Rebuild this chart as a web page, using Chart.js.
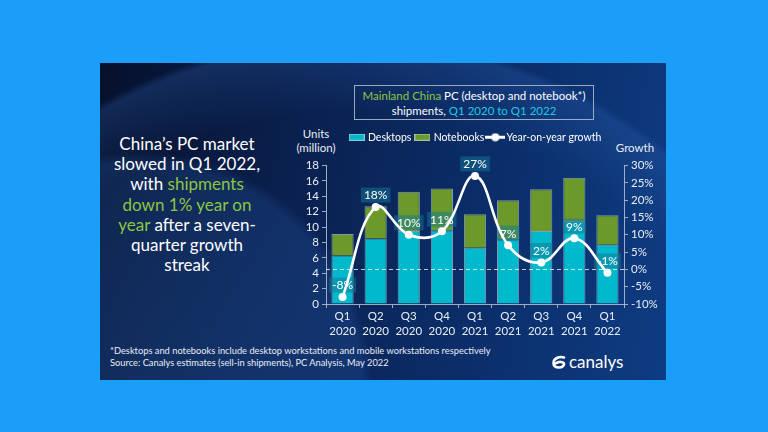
<!DOCTYPE html>
<html>
<head>
<meta charset="utf-8">
<script src="https://cdn.jsdelivr.net/npm/chart.js@4.4.0/dist/chart.umd.min.js"></script>
<style>
    html, body { margin: 0; padding: 0; }
    body {
        width: 768px; height: 432px; position: relative; overflow: hidden;
        background: #1b9ef7;
        font-family: Lato, "Open Sans", sans-serif;
        color: #ffffff;
    }
    #panel {
        position: absolute; left: 100px; top: 63px; width: 566px; height: 317px;
        background:
            radial-gradient(circle 600px at 250px 480px, rgba(45, 95, 175, 0) 430px, rgba(45, 95, 175, 0.30) 498px, rgba(45, 95, 175, 0) 506px),
            radial-gradient(circle 240px at 40px 320px, rgba(40, 95, 175, 0.32) 0, rgba(40, 95, 175, 0.25) 220px, rgba(40, 95, 175, 0) 232px),
            linear-gradient(100deg, #06112c 0%, #0a2150 35%, #0b2d68 65%, #0e3c82 100%);
    }
    .abs { position: absolute; }
    .green { color: #8cc63f; }
    .cyan { color: #1ec9e3; }
    #intro {
        left: 105px; top: 134px; width: 164px; text-align: center;
        font-size: 17px; line-height: 20.2px;
    }
    #titlebox {
        left: 354px; top: 85px; width: 240px; height: 35px;
        border: 1px solid rgba(190, 200, 215, 0.8);
        text-align: center; font-size: 11.5px; line-height: 14.5px;
        box-sizing: border-box; padding-top: 3px;
    }
    .axisTitle { font-size: 11.5px; line-height: 14px; text-align: center; color: #e8edf5; }
    #notes { left: 110px; top: 345px; font-size: 9.3px; line-height: 11.5px; color: #e8edf5; }
    #logo { left: 552px; top: 351px; font-size: 17px; line-height: 21px; }
    #logo svg { vertical-align: -1px; margin-right: 3px; }
    #chartBox { left: 286px; top: 127px; width: 380px; height: 211px; }
</style>
</head>
<body>
<div id="panel"></div>

<div id="intro" class="abs">
    China’s PC market<br>
    slowed in Q1 2022,<br>
    with <span class="green">shipments</span><br>
    <span class="green">down 1% year on</span><br>
    <span class="green">year</span> after a seven-<br>
    quarter growth<br>
    streak
</div>

<div id="titlebox" class="abs">
    <span class="green">Mainland China</span> PC (desktop and notebook*)<br>
    shipments, <span class="cyan">Q1 2020 to Q1 2022</span>
</div>

<div class="abs axisTitle" style="left:290px; top:127px; width:52px;">Units<br>(million)</div>
<div class="abs axisTitle" style="left:610px; top:141px; width:50px;">Growth</div>

<div id="notes" class="abs">
    *Desktops and notebooks include desktop workstations and mobile workstations respectively<br>
    Source: Canalys estimates (sell-in shipments), PC Analysis, May 2022
</div>

<div id="logo" class="abs"><svg width="14" height="14" viewBox="0 0 14 14"><path d="M12 2.5 C7 1 1.5 3.5 1.5 8 C1.5 11 4 12.5 7 12.5 C10 12.5 12.5 10.5 12 8.5 C11 6.5 7 6.3 3.5 8.5" fill="none" stroke="#ffffff" stroke-width="2.6" stroke-linecap="round"/></svg>canalys</div>

<div id="chartBox" class="abs"><canvas id="chart"></canvas></div>

<script>
// values
const quarters = ['Q1', 'Q2', 'Q3', 'Q4', 'Q1', 'Q2', 'Q3', 'Q4', 'Q1'];
const years = ['2020', '2020', '2020', '2020', '2021', '2021', '2021', '2021', '2022'];
const desktops = [6.3, 8.5, 9.5, 9.6, 7.3, 8.4, 9.5, 10.8, 7.7];
const notebooks = [2.8, 4.2, 5.1, 5.4, 4.35, 5.1, 5.4, 5.6, 3.85];
const growth = [-8, 18, 10, 11, 27, 7, 2, 9, -1];

const unitTicks = { min: 0, max: 18, step: 2 };
const growthTicks = { min: -10, max: 30, step: 5 };

const cyan = '#00b9cc';
const green = '#6b9a2a';
const edge = 'rgba(200, 210, 222, 0.65)';
const axisGrey = 'rgba(185, 195, 210, 0.85)';
const tickText = '#e8edf5';

Chart.defaults.font.family = 'Lato, "Open Sans", sans-serif';

function makeIcon(kind)
{
    let c = document.createElement('canvas');
    if (kind === 'line')
    {
        c.width = 20; c.height = 9;
        let g = c.getContext('2d');
        g.strokeStyle = '#ffffff';
        g.lineWidth = 3;
        g.beginPath(); g.moveTo(0, 4.5); g.lineTo(20, 4.5); g.stroke();
        g.fillStyle = '#ffffff';
        g.beginPath(); g.arc(10, 4.5, 4, 0, Math.PI * 2); g.fill();
    }
    else
    {
        c.width = 16; c.height = 7;
        let g = c.getContext('2d');
        g.fillStyle = kind;
        g.fillRect(0, 0, 16, 7);
        g.strokeStyle = edge;
        g.lineWidth = 1;
        g.strokeRect(0.5, 0.5, 15, 6);
    }
    return c;
}

// extra room under the legend
const legendGap = {
    id: 'legendGap',
    beforeInit(chart)
    {
        const fit = chart.legend.fit;
        chart.legend.fit = function ()
        {
            fit.bind(chart.legend)();
            this.height += 13;
        };
    }
};

// zero line and value boxes, drawn after the bars but under the growth line
const overlays = {
    id: 'overlays',
    beforeDatasetDraw(chart, args)
    {
        if (args.index !== 2) return;
        const ctx = chart.ctx;
        const area = chart.chartArea;
        const y0 = chart.scales.y1.getPixelForValue(0);

        ctx.save();
        ctx.strokeStyle = 'rgba(255, 255, 255, 0.75)';
        ctx.lineWidth = 1;
        ctx.setLineDash([4, 3]);
        ctx.beginPath();
        ctx.moveTo(area.left, Math.round(y0) + 0.5);
        ctx.lineTo(area.right, Math.round(y0) + 0.5);
        ctx.stroke();
        ctx.setLineDash([]);

        ctx.font = '12px Lato, "Open Sans", sans-serif';
        ctx.textAlign = 'center';
        ctx.textBaseline = 'middle';
        const meta = chart.getDatasetMeta(2);
        meta.data.forEach((pt, i) =>
        {
            const text = growth[i] + '%';
            const w = ctx.measureText(text).width + 6;
            const h = 15;
            const x = pt.x;
            const y = pt.y - 12;
            ctx.fillStyle = 'rgba(20, 120, 150, 0.5)';
            ctx.fillRect(x - w / 2, y - h / 2, w, h);
            ctx.fillStyle = '#ffffff';
            ctx.fillText(text, x, y + 0.5);
        });
        ctx.restore();
    }
};

let config = {
    type: 'bar',
    data: {
        labels: quarters.map((q, i) => [q, years[i]]),
        datasets: [
            {
                label: 'Desktops',
                data: desktops,
                backgroundColor: cyan,
                borderColor: edge,
                borderWidth: 1,
                stack: 'units',
                yAxisID: 'y',
                order: 2,
                categoryPercentage: 1,
                barPercentage: 0.67,
            },
            {
                label: 'Notebooks',
                data: notebooks,
                backgroundColor: green,
                borderColor: edge,
                borderWidth: 1,
                stack: 'units',
                yAxisID: 'y',
                order: 2,
                categoryPercentage: 1,
                barPercentage: 0.67,
            },
            {
                type: 'line',
                label: 'Year-on-year growth',
                data: growth,
                borderColor: '#ffffff',
                backgroundColor: '#ffffff',
                borderWidth: 2.6,
                pointRadius: 4,
                pointBackgroundColor: '#ffffff',
                pointBorderWidth: 0,
                tension: 0.4,
                yAxisID: 'y1',
                order: 1,
            },
        ]
    },
    options: {
        responsive: true,
        maintainAspectRatio: false,
        animation: false,
        layout: { padding: { left: 0, right: 0, top: 0, bottom: 0 } },
        scales: {
            x: {
                stacked: true,
                offset: true,
                grid: { display: true, drawOnChartArea: false, color: axisGrey, tickLength: 4, offset: true },
                border: { display: true, color: axisGrey, width: 1 },
                ticks: { color: tickText, padding: 1, font: { size: 11.5, lineHeight: 1.3 }, maxRotation: 0, autoSkip: false },
                afterFit: s => { s.height = 34; },
            },
            y: {
                stacked: true,
                position: 'left',
                min: unitTicks.min,
                max: unitTicks.max,
                grid: { display: true, drawOnChartArea: false, color: axisGrey, tickLength: 4 },
                border: { display: true, color: axisGrey, width: 1 },
                ticks: { stepSize: unitTicks.step, autoSkip: false, color: tickText, padding: 3, font: { size: 11.5 } },
                afterFit: s => { s.width = 40; },
            },
            y1: {
                position: 'right',
                min: growthTicks.min,
                max: growthTicks.max,
                grid: { display: true, drawOnChartArea: false, color: axisGrey, tickLength: 4 },
                border: { display: true, color: axisGrey, width: 1 },
                ticks: { stepSize: growthTicks.step, autoSkip: false, color: tickText, padding: 3, font: { size: 11.5 },
                    callback: v => v + '%' },
                afterFit: s => { s.width = 42; },
            },
        },
        plugins: {
            tooltip: { enabled: false },
            legend: {
                position: 'top',
                labels: {
                    usePointStyle: true,
                    pointStyleWidth: 12,
                    padding: 5,
                    color: '#ffffff',
                    font: { size: 10.5 },
                    generateLabels: chart =>
                    {
                        const icons = [makeIcon(cyan), makeIcon(green), makeIcon('line')];
                        return chart.data.datasets.map((ds, i) => ({
                            text: ds.label,
                            fontColor: '#ffffff',
                            pointStyle: icons[i],
                            fillStyle: 'transparent',
                            strokeStyle: 'transparent',
                            lineWidth: 0,
                            hidden: false,
                            datasetIndex: i,
                        }));
                    },
                },
            },
        },
    },
    plugins: [legendGap, overlays],
};

new Chart('chart', config);
</script>
</body>
</html>
